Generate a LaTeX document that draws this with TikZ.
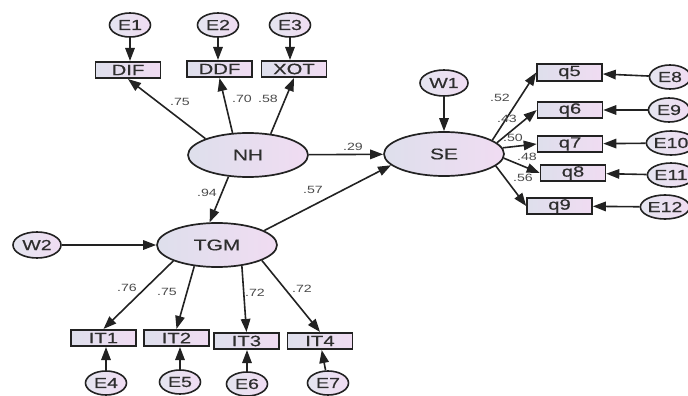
\documentclass[tikz,border=0pt]{standalone}
\usepackage{fontspec}
\setmainfont{Liberation Sans}
\newfontfamily\semfont[FakeStretch=1.35,FakeBold=0.4]{Liberation Sans}
\newfontfamily\lblfont[FakeStretch=1.35]{Liberation Sans}
\usetikzlibrary{shapes.geometric,arrows.meta}
\definecolor{inkc}{HTML}{222222}
\definecolor{txtc}{HTML}{2E2E2E}
\definecolor{lblc}{HTML}{4A4A4A}
\definecolor{fillL}{HTML}{DEDFEC}
\definecolor{fillR}{HTML}{F0DCF2}
\tikzset{
  latent/.style={ellipse, draw=inkc, line width=1.7pt, minimum width=120pt, minimum height=44pt, inner sep=0pt,
    left color=fillL, right color=fillR, font=\semfont\fontsize{15.5}{15.5}\selectfont, text=txtc},
  errc/.style={ellipse, draw=inkc, line width=1.6pt, minimum width=41pt, minimum height=24pt, inner sep=0pt,
    left color=fillL!80!white, right color=fillR, font=\semfont\fontsize{14.5}{14.5}\selectfont, text=txtc},
  wc/.style={errc, minimum width=48pt, minimum height=26pt},
  obs/.style={rectangle, draw=inkc, line width=1.6pt, minimum width=65pt, minimum height=16.5pt, inner sep=0pt,
    left color=fillL, right color=fillR, font=\semfont\fontsize{15}{15}\selectfont, text=txtc},
  lbl/.style={font=\lblfont\fontsize{10.5}{10.5}\selectfont, text=lblc, inner sep=0pt},
  arr/.style={draw=inkc, line width=1.6pt, -{Triangle[length=13pt,width=9.5pt]}},
}
\begin{document}
\begin{tikzpicture}[x=1pt,y=-1pt]
\useasboundingbox (0,0) rectangle (688,396);
% latent
\node[latent] (NH) at (248,155) {NH};
\node[latent] (SE) at (444,154) {SE};
\node[latent] (TGM) at (217,245) {TGM};
% top indicators
\node[obs] (DIF) at (128,70) {DIF};
\node[obs] (DDF) at (219.5,69) {DDF};
\node[obs] (XOT) at (294,69) {XOT};
\node[errc] (E1) at (130,25) {E1};
\node[errc] (E2) at (218,25) {E2};
\node[errc] (E3) at (290,25) {E3};
% right indicators
\node[obs] (q5) at (569.5,72.5) {q5};
\node[obs] (q6) at (570,110) {q6};
\node[obs] (q7) at (570,144) {q7};
\node[obs] (q8) at (573,173) {q8};
\node[obs] (q9) at (559.5,206) {q9};
\node[errc] (E8) at (670,77) {E8};
\node[errc] (E9) at (669,110) {E9};
\node[errc] (E10) at (671,143) {E10};
\node[errc] (E11) at (671,175) {E11};
\node[errc] (E12) at (665,207) {E12};
% bottom indicators
\node[obs] (IT1) at (103.5,338) {IT1};
\node[obs] (IT2) at (176.5,338) {IT2};
\node[obs] (IT3) at (246.5,341) {IT3};
\node[obs] (IT4) at (320,341) {IT4};
\node[errc] (E4) at (106,383) {E4};
\node[errc] (E5) at (180,382) {E5};
\node[errc] (E6) at (247,384) {E6};
\node[errc] (E7) at (328,383) {E7};
% disturbances
\node[wc] (W1) at (444,83) {W1};
\node[wc] (W2) at (37,245) {W2};
% arrows: errors
\draw[arr] (E1.south) -- (E1.south |- DIF.north);
\draw[arr] (E2.south) -- (E2.south |- DDF.north);
\draw[arr] (E3.south) -- (E3.south |- XOT.north);
\draw[arr] (E4.north) -- (E4.north |- IT1.south);
\draw[arr] (E5.north) -- (E5.north |- IT2.south);
\draw[arr] (E6.north) -- (E6.north |- IT3.south);
\draw[arr] (E7) -- (IT4);
\draw[arr] (E8) -- (q5);
\draw[arr] (E9) -- (q6);
\draw[arr] (E10) -- (q7);
\draw[arr] (E11) -- (q8);
\draw[arr] (E12) -- (q9);
\draw[arr] (W1) -- (SE);
\draw[arr] (W2) -- (TGM);
% loadings
\draw[arr] (NH.159) -- (DIF.south);
\draw[arr] (NH.125) -- (DDF.south);
\draw[arr] (NH.43) -- (XOT.south);
\draw[arr] (TGM.-160) -- (IT1.north);
\draw[arr] (TGM.-137) -- (IT2.north);
\draw[arr] (TGM.-40) -- (IT3.north);
\draw[arr] (TGM.-19) -- (IT4.north);
\draw[arr] (SE.16) -- (q5.west);
\draw[arr] (SE.12) -- (q6.west);
\draw[arr] (SE.6) -- (q7.west);
\draw[arr] (SE.-4) -- (q8.west);
\draw[arr] (SE.-13) -- (q9.west);
% structural
\draw[arr] (NH) -- (SE);
\draw[arr] (NH.-132) -- (TGM.108);
\draw[arr] (TGM.17) -- (SE.192);
% labels
\node[lbl] (l1) at (180,102) {.75};
\node[lbl] (l2) at (242,99) {.70};
\node[lbl] (l3) at (268,99) {.58};
\node[lbl] (l4) at (207,193) {.94};
\node[lbl] (l5) at (313,190) {.57};
\node[lbl] (l6) at (353,147) {.29};
\node[lbl] (l7) at (500,98) {.52};
\node[lbl] (l8) at (507,119) {.43};
\node[lbl] (l9) at (513,138) {.50};
\node[lbl] (l10) at (527,157) {.48};
\node[lbl] (l11) at (523,178) {.56};
\node[lbl] (l12) at (127,288) {.76};
\node[lbl] (l13) at (167,292) {.75};
\node[lbl] (l14) at (255,293) {.72};
\node[lbl] (l15) at (302,289) {.72};
\end{tikzpicture}
\end{document}
